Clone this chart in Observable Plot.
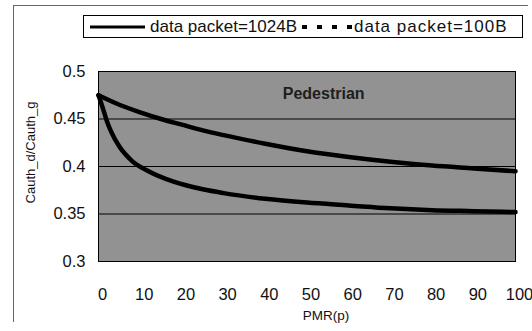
<!DOCTYPE html>
<html>
<head>
<meta charset="utf-8">
<script src="https://cdn.jsdelivr.net/npm/d3@7"></script>
<script src="https://cdn.jsdelivr.net/npm/@observablehq/plot@0.6"></script>
<style>
  body { margin: 0; background: #fff; font-family: "Liberation Sans", Arial, sans-serif; }
  #wrap { position: relative; width: 532px; height: 331px; }
  #frame { position: absolute; left: 13px; top: 5px; width: 514px; height: 316px;
           border-top: 1px solid #666; border-left: 1px solid #666; pointer-events: none; }
  #legend { position: absolute; left: 83px; top: 15px; width: 438px; height: 21px;
            border: 1px solid #000; background: #fff; font-size: 17px; color: #111;
            display: flex; align-items: center; white-space: nowrap; }
  .sw { display: inline-block; }
</style>
</head>
<body>
<div id="wrap">
  <div id="frame"></div>
  <div id="chart"></div>
  <div id="legend"></div>
</div>
<script>
// Data
const seriesNames = ["data packet=1024B", "data packet=100B"];
const pmr1024 = [0, 5, 10, 15, 20, 25, 30, 40, 50, 60, 70, 80, 90, 100];
const ratio1024 = [0.475, 0.465, 0.457, 0.450, 0.444, 0.438, 0.433, 0.424, 0.416, 0.410, 0.405, 0.401, 0.398, 0.395];
const pmr100 = [0, 1, 2, 3, 5, 8, 12, 18, 25, 30, 40, 50, 60, 70, 80, 90, 100];
const ratio100 = [0.475, 0.462, 0.448, 0.437, 0.421, 0.406, 0.395, 0.384, 0.376, 0.372, 0.366, 0.362, 0.359, 0.356, 0.354, 0.353, 0.352];
const xTicks = [0, 10, 20, 30, 40, 50, 60, 70, 80, 90, 100];
const yTicks = [0.3, 0.35, 0.4, 0.45, 0.5];
const gridValues = [0.35, 0.4, 0.45];
const xTitle = "PMR(p)";
const yTitle = "Cauth_d/Cauth_g";
const note = {x: 54, y: 0.476, text: "Pedestrian"};

const rows = [
  ...pmr1024.map((x, i) => ({x, y: ratio1024[i], series: seriesNames[0]})),
  ...pmr100.map((x, i) => ({x, y: ratio100[i], series: seriesNames[1]}))
];

const chart = Plot.plot({
  width: 532,
  height: 331,
  marginLeft: 98,
  marginRight: 17,
  marginTop: 71,
  marginBottom: 70,
  style: {fontFamily: "'Liberation Sans', Arial, sans-serif", fontSize: "16px", color: "#111", background: "transparent"},
  x: {domain: [0, 100]},
  y: {domain: [0.3, 0.5]},
  marks: [
    Plot.frame({fill: "#929292"}),
    Plot.gridY(gridValues, {stroke: "#000", strokeOpacity: 1, strokeWidth: 1}),
    Plot.line(rows, {x: "x", y: "y", z: "series", stroke: "#000", strokeWidth: 4.5, curve: "monotone-x"}),
    Plot.frame({stroke: "#000", strokeWidth: 1}),
    Plot.text([note], {x: "x", y: "y", text: "text", fontWeight: "bold", fontSize: 16, fill: "#1e1e1e"}),
    Plot.axisX(xTicks, {tickSize: 0, tickPadding: 27, dx: 4, label: null, fontSize: 16.5}),
    Plot.axisY(yTicks, {tickSize: 0, tickPadding: 13, tickFormat: d => String(d), label: null, fontSize: 16.5}),
    Plot.text([yTitle], {frameAnchor: "left", textAnchor: "middle", lineAnchor: "middle", dx: -68, dy: -14, rotate: -90, fontSize: 13}),
    Plot.text([xTitle], {frameAnchor: "bottom", textAnchor: "middle", lineAnchor: "middle", dx: 19, dy: 54, fontSize: 13.5, letterSpacing: "0.6px"})
  ]
});
document.getElementById("chart").appendChild(chart);

// Legend
const legend = document.getElementById("legend");
seriesNames.forEach((name, i) => {
  const svgNS = "http://www.w3.org/2000/svg";
  const w = i === 0 ? 55 : 50;
  const sw = document.createElementNS(svgNS, "svg");
  sw.setAttribute("width", w);
  sw.setAttribute("height", 8);
  sw.setAttribute("class", "sw");
  const ln = document.createElementNS(svgNS, "line");
  ln.setAttribute("x1", 0); ln.setAttribute("x2", w);
  ln.setAttribute("y1", 4); ln.setAttribute("y2", 4);
  ln.setAttribute("stroke", "#000");
  ln.setAttribute("stroke-width", i === 0 ? 3 : 4);
  if (i === 1) ln.setAttribute("stroke-dasharray", "5 10");
  sw.appendChild(ln);
  sw.style.marginLeft = i === 0 ? "6px" : "5px";
  sw.style.marginRight = i === 0 ? "5px" : "2px";
  legend.appendChild(sw);
  const t = document.createElement("span");
  t.textContent = name;
  if (i === 1) t.style.letterSpacing = "1px";
  legend.appendChild(t);
});
</script>
</body>
</html>
